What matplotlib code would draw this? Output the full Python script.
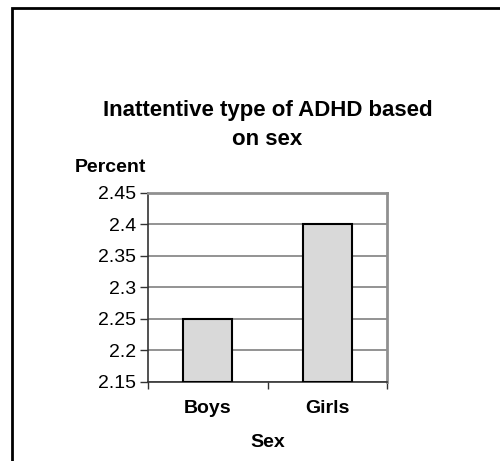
import matplotlib.pyplot as plt
from matplotlib.patches import Rectangle

categories = ["Boys", "Girls"]
percent = [2.25, 2.40]
yticks = [2.15, 2.2, 2.25, 2.3, 2.35, 2.4, 2.45]
ytick_labels = ["2.15", "2.2", "2.25", "2.3", "2.35", "2.4", "2.45"]

plt.rcParams['font.family'] = ['Liberation Sans', 'DejaVu Sans']

fig = plt.figure(figsize=(5, 4.61), dpi=100)
ax = fig.add_axes([0.295, 0.1714, 0.48, 0.41])

x = list(range(len(categories)))
ax.bar(x, [v - yticks[0] for v in percent], bottom=yticks[0], width=0.41,
       color="#d9d9d9", edgecolor="black", linewidth=1.5, zorder=3)

ax.set_xlim(-0.5, len(categories) - 0.5)
ax.set_ylim(yticks[0], yticks[-1])
ax.set_yticks(yticks)
ax.set_yticklabels(ytick_labels, fontsize=14)
ax.set_xticks(x)
ax.set_xticklabels(categories, fontsize=14, fontweight="bold")
ax.tick_params(axis="x", length=0, pad=13)
ax.set_xticks([-0.5, 0.5, 1.5], minor=True)
ax.tick_params(axis="x", which="minor", length=5, width=1, color="#333333", direction="out")
ax.tick_params(axis="y", length=6, width=1, color="#333333", pad=2)

ax.yaxis.grid(True, color="#808080", linewidth=1.2, zorder=0)
ax.set_axisbelow(True)
for side in ("top", "right"):
    ax.spines[side].set_color("#909090")
    ax.spines[side].set_linewidth(2)
for side in ("left", "bottom"):
    ax.spines[side].set_color("#333333")
    ax.spines[side].set_linewidth(1.2)

ax.set_title("Inattentive type of ADHD based\non sex", fontsize=16,
             fontweight="bold", pad=34.5, linespacing=1.5)
ax.set_xlabel("Sex", fontsize=14, fontweight="bold", labelpad=12)
fig.text(75 / 500, 1 - 168 / 461, "Percent", fontsize=14, fontweight="bold",
         ha="left", va="center")

# outer frame like the original chart box (runs off the right and bottom)
fig.patches.append(Rectangle((11.5 / 500, -0.1), 1.2, 1 - 7.5 / 461 + 0.1,
                             transform=fig.transFigure, fill=False,
                             edgecolor="black", linewidth=2))

fig.savefig("out.png", dpi=100)
